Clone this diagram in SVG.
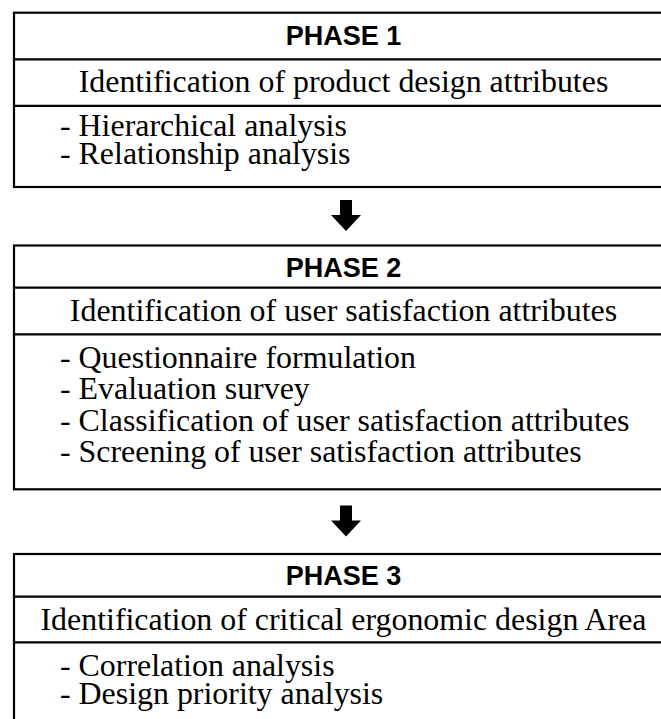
<svg xmlns="http://www.w3.org/2000/svg" width="661" height="719" viewBox="0 0 661 719">
  <style>
    .box { fill: #ffffff; stroke: #000000; stroke-width: 2.2; }
    .div { stroke: #000000; stroke-width: 2.2; }
    .head { font-family: "Liberation Sans", Arial, sans-serif; font-weight: bold; font-size: 27px; fill: #000000; text-anchor: middle; }
    .title { font-family: "Liberation Serif", "Times New Roman", serif; font-size: 31.9px; fill: #000000; text-anchor: middle; }
    .item { font-family: "Liberation Serif", "Times New Roman", serif; font-size: 31.9px; fill: #000000; }
    .arrow { fill: #000000; }
  </style>
  <defs>
    <path id="down-arrow" d="M -6 0 H 6 V 15 H 15 L 0 31 L -15 15 H -6 Z"/>
  </defs>
  <rect width="661" height="719" fill="#ffffff"/>

  <!-- Phase 1 -->
  <g id="phase1">
    <rect class="box" x="14" y="12.7" width="660" height="174.3"/>
    <line class="div" x1="14" y1="59.3" x2="674" y2="59.3"/>
    <line class="div" x1="14" y1="105.8" x2="674" y2="105.8"/>
    <text class="head" x="343.5" y="45.3">PHASE 1</text>
    <text class="title" x="343.5" y="92">Identification of product design attributes</text>
    <text class="item" x="60" y="136">- Hierarchical analysis</text>
    <text class="item" x="60" y="164">- Relationship analysis</text>
  </g>

  <!-- Phase 2 -->
  <g id="phase2">
    <rect class="box" x="14" y="245.5" width="660" height="243.8"/>
    <line class="div" x1="14" y1="287.6" x2="674" y2="287.6"/>
    <line class="div" x1="14" y1="334.3" x2="674" y2="334.3"/>
    <text class="head" x="343.5" y="276.5">PHASE 2</text>
    <text class="title" x="343.5" y="320.5">Identification of user satisfaction attributes</text>
    <text class="item" x="60" y="367.7">- Questionnaire formulation</text>
    <text class="item" x="60" y="399.2">- Evaluation survey</text>
    <text class="item" x="60" y="430.7">- Classification of user satisfaction attributes</text>
    <text class="item" x="60" y="462.2">- Screening of user satisfaction attributes</text>
  </g>

  <!-- Phase 3 -->
  <g id="phase3">
    <rect class="box" x="14" y="554" width="660" height="180"/>
    <line class="div" x1="14" y1="596.7" x2="674" y2="596.7"/>
    <line class="div" x1="14" y1="642.3" x2="674" y2="642.3"/>
    <text class="head" x="343.5" y="585">PHASE 3</text>
    <text class="title" x="343.5" y="629.5">Identification of critical ergonomic design Area</text>
    <text class="item" x="60" y="676">- Correlation analysis</text>
    <text class="item" x="60" y="704">- Design priority analysis</text>
  </g>

  <!-- Connectors -->
  <g id="connectors">
    <use class="arrow" href="#down-arrow" x="346" y="200"/>
    <use class="arrow" href="#down-arrow" x="346" y="505.5"/>
  </g>
</svg>
